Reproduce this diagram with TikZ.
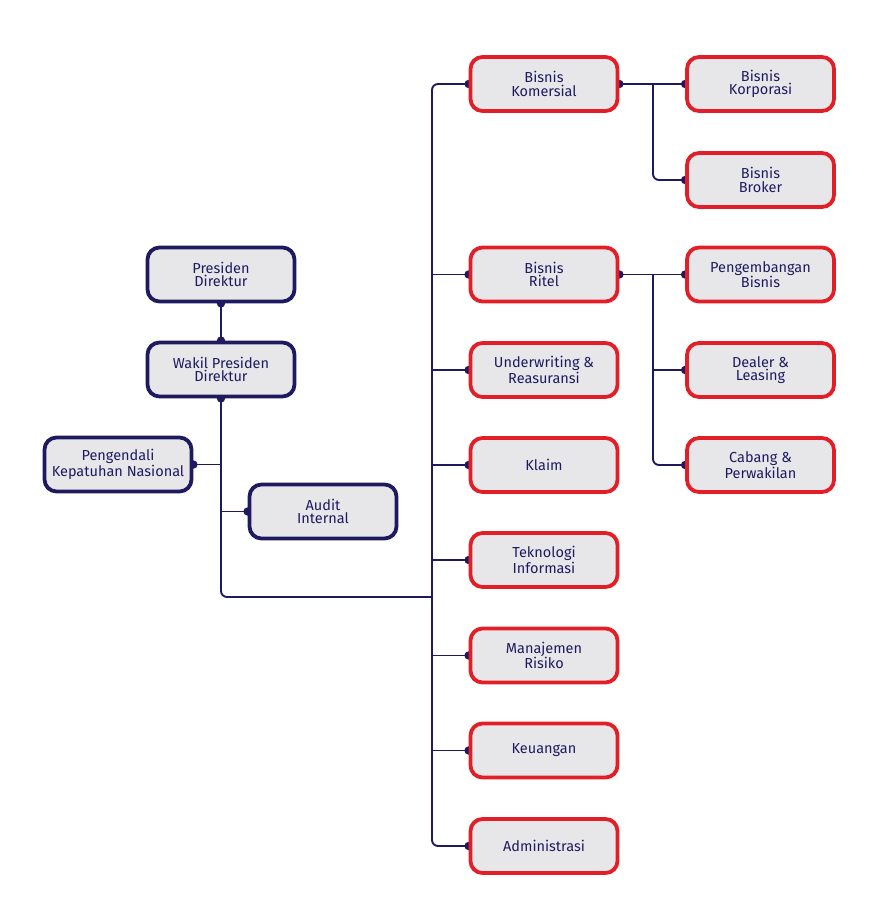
\documentclass[tikz,border=0pt]{standalone}
\usepackage{fontspec}
\setmainfont{Fira Sans}
\usetikzlibrary{backgrounds}
\definecolor{navy}{HTML}{1F1A60}
\definecolor{redb}{HTML}{E31E26}
\definecolor{boxfill}{HTML}{E7E7EA}
\begin{document}
\begin{tikzpicture}[x=1pt,y=-1pt,
  box/.style={draw, line width=3.8pt, fill=boxfill, rounded corners=12pt,
    minimum width=147pt, minimum height=54pt, align=center, inner sep=2pt,
    text=navy, font=\fontsize{14.5}{13.2}\selectfont},
  nbox/.style={box, draw=navy},
  rbox/.style={box, draw=redb},
  conn/.style={draw=navy, line width=1.9pt, rounded corners=6pt},
  dot/.style={fill=navy, draw=none}]
\useasboundingbox (0,0) rectangle (890,918);
\node[nbox] (pd) at (221,274.5) {Presiden\\Direktur};
\node[nbox] (wpd) at (221,369.5) {Wakil Presiden\\Direktur};
\node[nbox] (pkn) at (118,464.5) {Pengendali\\Kepatuhan Nasional};
\node[nbox] (ai) at (323,511.5) {Audit\\Internal};
\node[rbox] (bk) at (544,84) {Bisnis\\Komersial};
\node[rbox] (br) at (544,274.5) {Bisnis\\Ritel};
\node[rbox] (ur) at (544,370) {Underwriting \&\\Reasuransi};
\node[rbox] (kl) at (544,465) {Klaim};
\node[rbox] (ti) at (544,560) {Teknologi\\Informasi};
\node[rbox] (mr) at (544,655.5) {Manajemen\\Risiko};
\node[rbox] (ku) at (544,750.5) {Keuangan};
\node[rbox] (ad) at (544,846) {Administrasi};
\node[rbox] (kp) at (760.5,84) {Bisnis\\Korporasi};
\node[rbox] (bb) at (760.5,180) {Bisnis\\Broker};
\node[rbox] (pb) at (760.5,274.5) {Pengembangan\\Bisnis};
\node[rbox] (dl) at (760.5,370) {Dealer \&\\Leasing};
\node[rbox] (cp) at (760.5,465) {Cabang \&\\Perwakilan};
\coordinate (spine) at (432,597);
\coordinate (rsp) at (653,0);
\begin{scope}[on background layer]
\draw[conn] (pd.south) -- (wpd.north);
\draw[conn] (wpd.south) |- (spine);
\draw[conn] (pkn.east) -- (pkn.east -| wpd.south);
\draw[conn] (ai.west) -- (ai.west -| wpd.south);
\draw[conn] (bk.west) -| (spine |- ad.west) -- (ad.west);
\foreach \n in {br,ur,kl,ti,mr,ku} \draw[conn] (\n.west) -- (\n.west -| spine);
\draw[conn] (bk.east) -- (kp.west);
\draw[conn] (bk.east -| rsp) |- (bb.west);
\draw[conn] (br.east) -- (pb.west);
\draw[conn] (br.east -| rsp) |- (cp.west);
\draw[conn] (dl.west) -- (dl.west -| rsp);
\foreach \a in {pd.south,wpd.north,wpd.south,pkn.east,ai.west,bk.west,bk.east,br.west,br.east,ur.west,kl.west,ti.west,mr.west,ku.west,ad.west,kp.west,bb.west,pb.west,dl.west,cp.west}
  \fill[dot] (\a) circle (4.2pt);
\end{scope}
\end{tikzpicture}
\end{document}
